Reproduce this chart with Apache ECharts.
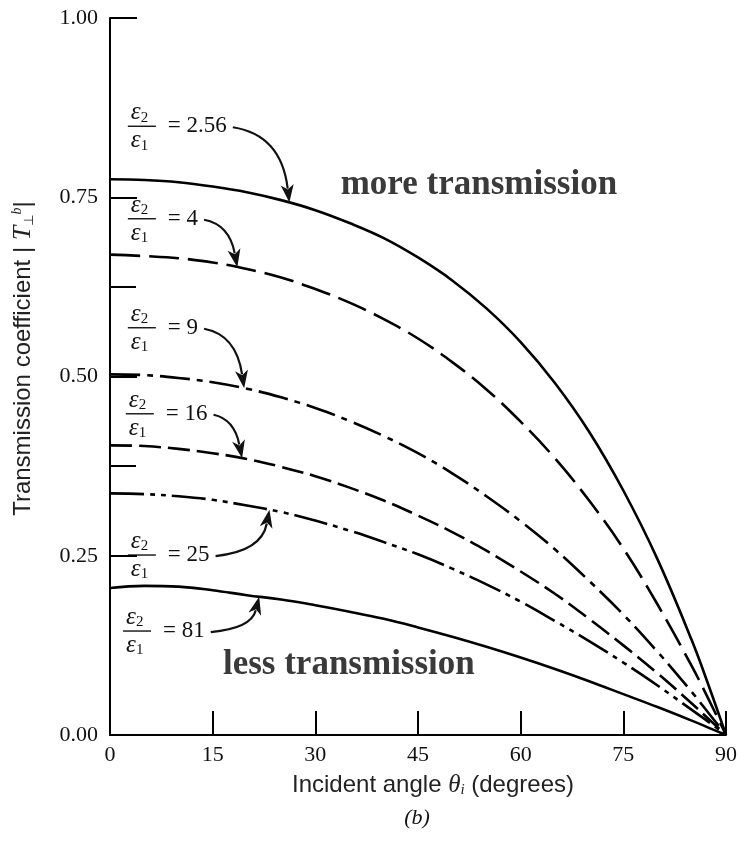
<!DOCTYPE html>
<html>
<head>
<meta charset="utf-8">
<script src="https://cdn.jsdelivr.net/npm/echarts@6/dist/echarts.min.js"></script>
<style>
html,body{margin:0;padding:0;background:#fff;}
#c{width:740px;height:842px;}
</style>
</head>
<body>
<div id="c"></div>
<script>
// ---- data ----
const angles   = [0, 5, 10, 15, 20, 25, 30, 35, 40, 45, 50, 55, 60, 65, 70, 75, 80, 85, 87.5, 90];
const ratio256 = [0.775,0.774,0.771,0.765,0.757,0.746,0.732,0.714,0.693,0.666,0.634,0.595,0.548,0.491,0.423,0.341,0.245,0.132,0.068,0];
const ratio4   = [0.670,0.668,0.665,0.659,0.650,0.638,0.622,0.603,0.580,0.553,0.520,0.482,0.437,0.386,0.327,0.260,0.182,0.096,0.049,0];
const ratio9   = [0.503,0.502,0.498,0.492,0.483,0.471,0.456,0.438,0.417,0.393,0.365,0.333,0.298,0.259,0.215,0.168,0.116,0.060,0.030,0];
const ratio16  = [0.404,0.403,0.399,0.393,0.385,0.374,0.361,0.345,0.327,0.306,0.283,0.257,0.228,0.197,0.162,0.125,0.086,0.044,0.022,0];
const ratio25  = [0.337,0.336,0.333,0.328,0.320,0.311,0.299,0.285,0.269,0.252,0.232,0.210,0.186,0.159,0.131,0.101,0.069,0.035,0.018,0];
const ratio81  = [0.205,0.208,0.207,0.202,0.195,0.189,0.181,0.172,0.162,0.150,0.137,0.123,0.108,0.092,0.075,0.057,0.039,0.020,0.010,0];

const ratioLabels = ['2.56', '4', '9', '16', '25', '81'];
const xTickLabels = ['0', '15', '30', '45', '60', '75', '90'];
const yTickLabels = ['0.00', '0.25', '0.50', '0.75', '1.00'];
const extraYTicks = [0.375, 0.625];

// annotation anchors (data coordinates)
const labelAngle = [2.9, 2.9, 2.9, 2.6, 2.9, 2.2];
const labelValue = [0.849, 0.720, 0.568, 0.448, 0.251, 0.145];
const arrowTipAngle = [26.2, 18.6, 19.6, 19.3, 23.3, 21.8];
const noteTexts = ['more transmission', 'less transmission'];
const noteAngle = [53.9, 34.9];
const noteValue = [0.767, 0.098];

// ---- styles ----
const allSeries = [ratio256, ratio4, ratio9, ratio16, ratio25, ratio81];
const dashStyles = ['solid', [30, 9], [30, 7, 6, 7], [22, 7], [34, 6, 5, 6, 5, 6], 'solid'];

const chart = echarts.init(document.getElementById('c'), null, {renderer: 'canvas'});

const series = allSeries.map((vals, k) => {
  const s = {
    type: 'line',
    name: ratioLabels[k],
    data: angles.map((a, i) => [a, vals[i]]),
    showSymbol: false,
    smooth: 0.4,
    lineStyle: {color: '#000', width: 2.6, type: dashStyles[k], cap: 'butt', join: 'round'},
    silent: true,
    z: 3
  };
  if (k === 5) {
    s.markLine = {
      silent: true,
      symbol: 'none',
      label: {show: false},
      lineStyle: {color: '#000', width: 2, type: 'solid'},
      data: extraYTicks.map(v => [{coord: [0, v]}, {coord: [3.8, v]}])
    };
  }
  return s;
});

const option = {
  animation: false,
  backgroundColor: '#fff',
  grid: {left: 110, right: 11, top: 18, bottom: 107, containLabel: false},
  xAxis: {
    type: 'value', min: 0, max: 90, interval: 15,
    axisLine: {show: true, lineStyle: {color: '#000', width: 2}},
    axisTick: {show: true, inside: true, length: 24, lineStyle: {color: '#000', width: 2}},
    axisLabel: {
      color: '#111', fontFamily: 'Liberation Serif', fontSize: 22, margin: 9,
      formatter: v => xTickLabels[Math.round(v / 15)]
    },
    splitLine: {show: false},
    name: '{n|Incident angle }{th|θ}{sub|i}{n| (degrees)}',
    nameLocation: 'middle',
    nameGap: 38,
    nameTextStyle: {
      padding: [0, 0, 0, 30],
      rich: {
        n: {fontFamily: 'Liberation Sans', fontSize: 24, color: '#222'},
        th: {fontFamily: 'Liberation Serif', fontStyle: 'italic', fontSize: 25, color: '#222'},
        sub: {fontFamily: 'Liberation Serif', fontStyle: 'italic', fontSize: 15, color: '#222', verticalAlign: 'bottom', padding: [10, 0, 0, 0]}
      }
    }
  },
  yAxis: {
    type: 'value', min: 0, max: 1, interval: 0.25,
    axisLine: {show: true, lineStyle: {color: '#000', width: 2}},
    axisTick: {show: true, inside: true, length: 27, lineStyle: {color: '#000', width: 2}},
    axisLabel: {
      color: '#111', fontFamily: 'Liberation Serif', fontSize: 22, margin: 12,
      formatter: v => yTickLabels[Math.round(v / 0.25)]
    },
    splitLine: {show: false},
    name: '{n|Transmission coefficient | }{t|T}{sub|⊥}{sup|b}{n||}',
    nameLocation: 'middle',
    nameRotate: 90,
    nameGap: 74,
    nameTextStyle: {
      padding: [0, 0, 0, 36],
      rich: {
        n: {fontFamily: 'Liberation Sans', fontSize: 24, color: '#222'},
        t: {fontFamily: 'Liberation Serif', fontStyle: 'italic', fontSize: 26, color: '#222'},
        sub: {fontFamily: 'DejaVu Sans', fontSize: 13, color: '#222', verticalAlign: 'bottom'},
        sup: {fontFamily: 'Liberation Serif', fontStyle: 'italic', fontSize: 14, color: '#222', verticalAlign: 'top'}
      }
    }
  },
  series: series
};
chart.setOption(option);

// ---- annotations ----
function valueAt(vals, theta) {
  for (let i = 0; i < angles.length - 1; i++) {
    if (theta >= angles[i] && theta <= angles[i + 1]) {
      const f = (theta - angles[i]) / (angles[i + 1] - angles[i]);
      return vals[i] + f * (vals[i + 1] - vals[i]);
    }
  }
  return vals[vals.length - 1];
}
const px = (x, y) => chart.convertToPixel({gridIndex: 0}, [x, y]);
const measure = (() => {
  const ctx = document.createElement('canvas').getContext('2d');
  return (txt, font) => { ctx.font = font; return ctx.measureText(txt).width; };
})();

const eqFont = '23px "Liberation Serif"';
const graphics = [];
const epsRich = {
  e: {fontFamily: 'Liberation Serif', fontStyle: 'italic', fontSize: 25, fill: '#111'},
  s: {fontFamily: 'Liberation Serif', fontSize: 15, fill: '#111', verticalAlign: 'bottom', padding: [9, 0, 0, 0]}
};

ratioLabels.forEach((lab, k) => {
  const [bx, by] = px(labelAngle[k], labelValue[k]);
  graphics.push({type: 'line', silent: true, shape: {x1: bx - 2, y1: by, x2: bx + 26, y2: by},
    style: {stroke: '#111', lineWidth: 1.4}});
  graphics.push({type: 'text', silent: true, x: bx + 1, y: by - 1,
    style: {text: '{e|ε}{s|2}', rich: epsRich, verticalAlign: 'bottom', align: 'left'}});
  graphics.push({type: 'text', silent: true, x: bx + 1, y: by + 2,
    style: {text: '{e|ε}{s|1}', rich: epsRich, verticalAlign: 'top', align: 'left'}});
  const eqText = '= ' + lab;
  const ex = bx + 38;
  graphics.push({type: 'text', silent: true, x: ex, y: by,
    style: {text: eqText, font: eqFont, fill: '#111', verticalAlign: 'middle', align: 'left'}});
  const w = measure(eqText, eqFont);
  const sx = ex + w + 6, sy = by + 1;
  const tipT = arrowTipAngle[k];
  const [tx, ty] = px(tipT, valueAt(allSeries[k], tipT));
  const cx = tx - 8, cy = sy + (ty - sy) * 0.1;
  const head = 18;
  const dx = tx - cx, dy = ty - cy, L = Math.hypot(dx, dy);
  const ux = dx / L, uy = dy / L;
  const bxh = tx - ux * head, byh = ty - uy * head;
  const ex2 = tx - ux * (head - 4), ey2 = ty - uy * (head - 4);
  graphics.push({type: 'bezierCurve', silent: true,
    shape: {x1: sx, y1: sy, x2: ex2, y2: ey2, cpx1: cx, cpy1: cy},
    style: {stroke: '#111', lineWidth: 2.2, fill: null}});
  graphics.push({type: 'polygon', silent: true,
    shape: {points: [[tx, ty], [bxh - uy * 6.5, byh + ux * 6.5], [tx - ux * (head - 5), ty - uy * (head - 5)], [bxh + uy * 6.5, byh - ux * 6.5]]},
    style: {fill: '#111'}});
});

noteTexts.forEach((t, k) => {
  const [nx, ny] = px(noteAngle[k], noteValue[k]);
  graphics.push({type: 'text', silent: true, x: nx, y: ny,
    style: {text: t, font: 'bold 35px "Liberation Serif"', fill: '#3a3a3a', align: 'center', verticalAlign: 'middle'}});
});

graphics.push({type: 'text', silent: true, x: 417, y: 818,
  style: {text: '(b)', font: 'italic 22px "Liberation Serif"', fill: '#111', align: 'center', verticalAlign: 'middle'}});

chart.setOption({graphic: graphics});
</script>
</body>
</html>
